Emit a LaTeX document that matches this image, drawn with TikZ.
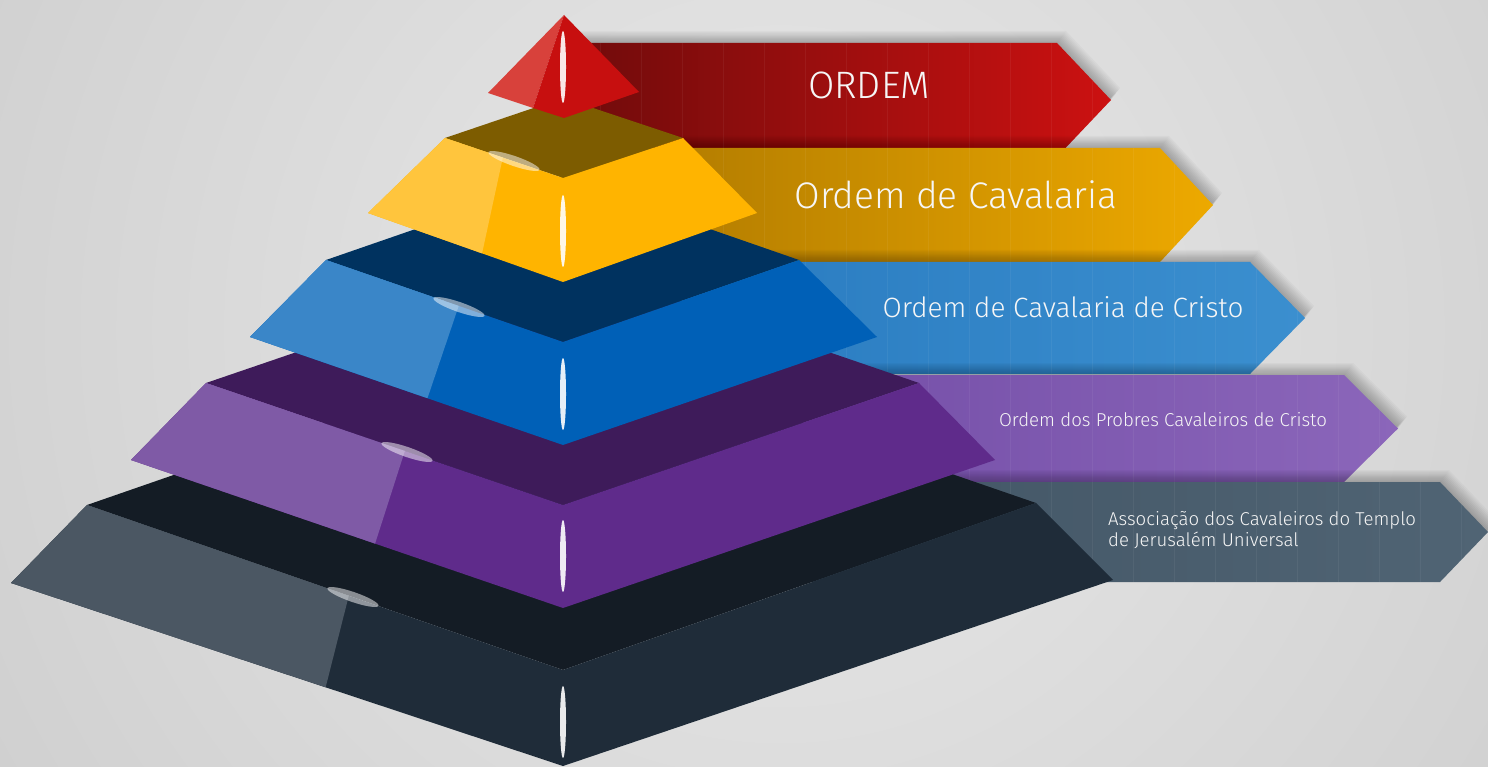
\documentclass[tikz,border=0pt]{standalone}
\usepackage{fontspec}
\setmainfont{Fira Sans Light}
\usepackage{graphicx}
\usetikzlibrary{calc}
\definecolor{bgL}{HTML}{C2C2C2}
\definecolor{bgM}{HTML}{E9E9E9}
\definecolor{redL}{HTML}{D8413B}
\definecolor{redR}{HTML}{C70F0F}
\definecolor{yelT}{HTML}{7D5C00}
\definecolor{yelL}{HTML}{FFC53D}
\definecolor{yelM}{HTML}{FFB400}
\definecolor{bluT}{HTML}{00325F}
\definecolor{bluL}{HTML}{3A86C8}
\definecolor{bluM}{HTML}{0060B7}
\definecolor{purT}{HTML}{3E1B5A}
\definecolor{purL}{HTML}{7F5AA6}
\definecolor{purM}{HTML}{5F2B8B}
\definecolor{drkT}{HTML}{141C25}
\definecolor{drkL}{HTML}{4B5763}
\definecolor{drkM}{HTML}{1F2C39}
\definecolor{bRedA}{HTML}{6E0B0B}
\definecolor{bRedB}{HTML}{CC1111}
\definecolor{bYelA}{HTML}{A87400}
\definecolor{bYelB}{HTML}{EDA900}
\definecolor{bBluA}{HTML}{2677BD}
\definecolor{bBluB}{HTML}{3B8FCF}
\definecolor{bPurA}{HTML}{6B45A0}
\definecolor{bPurB}{HTML}{8B66BA}
\definecolor{bDrkA}{HTML}{3D5060}
\definecolor{bDrkB}{HTML}{506474}
\definecolor{txtcol}{HTML}{F6F6F6}
\tikzset{
  bannertext/.style={text=txtcol, inner sep=0pt},
  vhilite/.style={fill=white, opacity=0.9},
  thilite/.style={fill=white, opacity=0.5},
}
% banner: top, bottom, corner x, tip x, left colour, right colour
\newcommand\mybanner[6]{%
  \foreach \i in {1,...,10}{%
    \fill[black, opacity=0.026, shift={(\i*0.9,-\i*1.2)}]
      (560,#1) -- (#3,#1) -- (#4,{(#1+#2)/2}) -- (#3,#2) -- (560,#2) -- cycle;
  }
  \shade[left color=#5, right color=#6]
    (560,#1) -- (#3,#1) -- (#4,{(#1+#2)/2}) -- (#3,#2) -- (560,#2) -- cycle;
  \begin{scope}
    \clip (560,#1) -- (#3,#1) -- (#4,{(#1+#2)/2}) -- (#3,#2) -- (560,#2) -- cycle;
    \foreach \x in {600,641,...,1480}{\draw[white, opacity=0.05, line width=0.8pt] (\x,#1) -- (\x,#2);}
  \end{scope}
}
% layer: prefix, top colour, light colour, main colour, split top, split bottom
\newcommand\pyrlayer[6]{%
  \fill[#2] (#1TL) -- (#1BK) -- (#1TR) -- (#1TF) -- cycle;
  \fill[#4] (#1TL) -- (#1TF) -- (#1TR) -- (#1BR) -- (#1BF) -- (#1BL) -- cycle;
  \fill[#3] (#1TL) -- ($(#1TL)!#5!(#1TF)$) -- ($(#1BL)!#6!(#1BF)$) -- (#1BL) -- cycle;
}
\begin{document}
\begin{tikzpicture}[x=1pt,y=-1pt]
\useasboundingbox (0,0) rectangle (1488,767);
\fill[bgL] (0,0) rectangle (1488,767);
\begin{scope}
  \clip (0,0) rectangle (1488,767);
  \shade[inner color=bgM, outer color=bgL] (780,330) circle [radius=1400pt];
\end{scope}

% banners, top to bottom
\mybanner{43}{157}{1057}{1111}{bRedA}{bRedB}
\mybanner{148}{262}{1160}{1213}{bYelA}{bYelB}
\mybanner{262}{374}{1250}{1305}{bBluA}{bBluB}
\mybanner{375}{482}{1344}{1398}{bPurA}{bPurB}
\mybanner{482}{582}{1440}{1488}{bDrkA}{bDrkB}

% dark layer
\coordinate (dTL) at (87,505);  \coordinate (dTF) at (563,670); \coordinate (dTR) at (1036,503);
\coordinate (dBK) at (563,340); \coordinate (dBL) at (11,583);  \coordinate (dBF) at (563,766);
\coordinate (dBR) at (1113,580);
\pyrlayer{d}{drkT}{drkL}{drkM}{0.55}{0.57}
% purple layer
\coordinate (pTL) at (206,383); \coordinate (pTF) at (563,505); \coordinate (pTR) at (919,383);
\coordinate (pBK) at (563,261); \coordinate (pBL) at (131,460); \coordinate (pBF) at (563,608);
\coordinate (pBR) at (995,460);
\pyrlayer{p}{purT}{purL}{purM}{0.557}{0.565}
% blue layer
\coordinate (bTL) at (326,260); \coordinate (bTF) at (563,342); \coordinate (bTR) at (799,260);
\coordinate (bBK) at (563,178); \coordinate (bBL) at (250,337); \coordinate (bBF) at (563,445);
\coordinate (bBR) at (877,337);
\pyrlayer{b}{bluT}{bluL}{bluM}{0.56}{0.567}
% yellow layer
\coordinate (yTL) at (445,138); \coordinate (yTF) at (563,178); \coordinate (yTR) at (683,138);
\coordinate (yBK) at (563,98);  \coordinate (yBL) at (368,213); \coordinate (yBF) at (563,282);
\coordinate (yBR) at (757,213);
\pyrlayer{y}{yelT}{yelL}{yelM}{0.49}{0.585}
% red top
\coordinate (rA) at (564,15); \coordinate (rL) at (488,93); \coordinate (rM) at (533,108);
\coordinate (rF) at (564,118); \coordinate (rR) at (639,92);
\fill[redL] (rA) -- (rL) -- (rM) -- cycle;
\fill[redR] (rA) -- (rM) -- (rF) -- (rR) -- cycle;

% highlights
\foreach \cy in {67,231,394,556,722}{\fill[vhilite] (563,\cy) ellipse [x radius=3pt, y radius=36pt];}
\foreach \cx/\cy in {514/161,459/307,407/452,353/597}{%
  \fill[thilite, rotate around={-19:(\cx,\cy)}] (\cx,\cy) ellipse [x radius=27pt, y radius=5pt];}

% texts
\node[bannertext] (t1) at (869,85) {\resizebox{122pt}{!}{\fontsize{33}{40}\selectfont ORDEM}};
\node[bannertext] (t2) at (956,195) {\resizebox{323pt}{!}{\fontsize{36}{43}\selectfont Ordem de Cavalaria}};
\node[bannertext] (t3) at (1063,307) {\resizebox{361pt}{!}{\fontsize{26}{31}\selectfont Ordem de Cavalaria de Cristo}};
\node[bannertext] (t4) at (1163,420) {\resizebox{328pt}{!}{\fontsize{17}{20}\selectfont Ordem dos Probres Cavaleiros de Cristo}};
\node[bannertext, anchor=west, align=left, font=\fontsize{18.6}{21.5}\selectfont] (t5) at (1108,530)
  {Associação dos Cavaleiros do Templo\\de Jerusalém Universal};
\end{tikzpicture}
\end{document}
